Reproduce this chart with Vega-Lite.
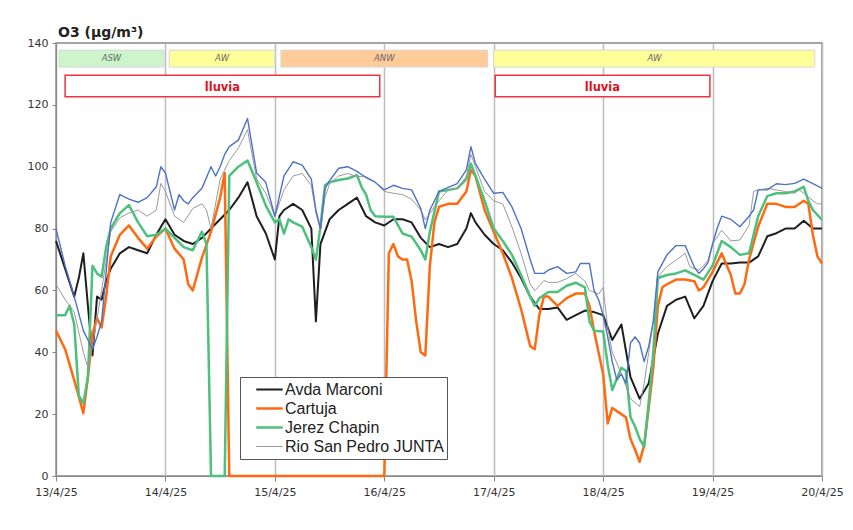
{
  "$schema": "https://vega.github.io/schema/vega-lite/v6.json",
  "width": 766,
  "height": 433,
  "autosize": "none",
  "padding": {"left": 56, "top": 43, "right": 31, "bottom": 54},
  "background": "white",
  "title": {"text": "O3 (µg/m³)", "anchor": "start", "frame": "group", "font": "DejaVu Sans", "fontSize": 14, "fontWeight": "bold", "color": "#222", "offset": 1, "dy": 4, "dx": 2},
  "config": {
    "font": "DejaVu Sans",
    "view": {"stroke": "#888", "strokeWidth": 1.5},
    "axis": {"labelFont": "DejaVu Sans", "labelFontSize": 11, "labelColor": "#333", "domainColor": "#888", "tickColor": "#888", "title": null}
  },
  "datasets": {
    "o3": [
      {"t": "2025-04-13T00:00", "M": 76, "C": 47, "J": 52, "R": 62, "B": 80},
      {"t": "2025-04-13T02:00", "M": 67, "C": 41, "J": 52, "R": 57, "B": 68},
      {"t": "2025-04-13T03:00", "J": 55},
      {"t": "2025-04-13T04:00", "M": 58, "C": 31, "J": 49, "R": 53, "B": 58},
      {"t": "2025-04-13T05:00", "M": 64, "J": 26},
      {"t": "2025-04-13T06:00", "M": 72, "C": 20.3, "J": 23.5, "R": 40, "B": 47},
      {"t": "2025-04-13T07:00", "M": 55, "C": 32, "J": 32, "R": 35},
      {"t": "2025-04-13T08:00", "M": 39, "C": 46, "J": 68, "R": 42, "B": 41},
      {"t": "2025-04-13T09:00", "M": 58, "C": 51, "J": 65.5, "B": 45},
      {"t": "2025-04-13T10:00", "M": 57, "C": 48, "J": 64.4, "R": 60, "B": 50},
      {"t": "2025-04-13T11:00", "M": 63, "C": 58, "J": 74},
      {"t": "2025-04-13T12:00", "M": 67, "C": 71, "J": 80, "R": 79, "B": 82},
      {"t": "2025-04-13T14:00", "M": 72, "C": 78, "J": 85, "R": 83.5, "B": 91},
      {"t": "2025-04-13T16:00", "M": 74, "C": 81, "J": 87.6, "R": 85, "B": 89.5},
      {"t": "2025-04-13T18:00", "M": 73, "C": 77, "J": 82, "R": 86, "B": 88.5},
      {"t": "2025-04-13T20:00", "M": 72, "C": 73.5, "J": 77.5, "R": 84, "B": 90},
      {"t": "2025-04-13T22:00", "M": 78, "C": 77.4, "J": 78, "R": 86, "B": 93.5},
      {"t": "2025-04-13T23:00", "R": 94.6, "B": 100},
      {"t": "2025-04-14T00:00", "M": 83, "C": 80, "J": 80, "R": 92, "B": 98},
      {"t": "2025-04-14T02:00", "M": 78, "C": 73.5, "J": 77, "R": 84, "B": 86},
      {"t": "2025-04-14T03:00", "B": 91},
      {"t": "2025-04-14T04:00", "M": 76, "C": 70, "J": 74, "R": 82, "B": 89},
      {"t": "2025-04-14T05:00", "C": 62, "B": 88},
      {"t": "2025-04-14T06:00", "M": 75, "C": 60, "J": 73, "R": 86.5, "B": 90},
      {"t": "2025-04-14T08:00", "M": 77, "C": 70.5, "J": 79, "R": 88, "B": 93},
      {"t": "2025-04-14T09:00", "J": 75, "R": 86},
      {"t": "2025-04-14T10:00", "M": 80, "C": 79, "J": 0, "R": 80, "B": 100},
      {"t": "2025-04-14T11:00", "B": 97},
      {"t": "2025-04-14T12:00", "M": 83, "C": 90, "J": 0, "R": 96, "B": 100},
      {"t": "2025-04-14T13:00", "C": 98, "J": 0, "B": 104},
      {"t": "2025-04-14T14:00", "M": 86, "C": 0, "J": 97, "R": 102, "B": 106.5},
      {"t": "2025-04-14T16:00", "M": 90, "C": 0, "J": 100, "R": 106, "B": 108.6},
      {"t": "2025-04-14T18:00", "M": 95, "C": 0, "J": 102, "R": 112, "B": 115.6},
      {"t": "2025-04-14T20:00", "M": 84, "C": 0, "J": 95, "R": 96, "B": 98},
      {"t": "2025-04-14T22:00", "M": 78.5, "C": 0, "J": 87.5, "R": 91.5, "B": 95},
      {"t": "2025-04-15T00:00", "M": 70, "C": 0, "J": 82, "R": 84, "B": 84},
      {"t": "2025-04-15T01:00", "M": 84, "J": 83},
      {"t": "2025-04-15T02:00", "M": 86, "C": 0, "J": 78.4, "R": 92.5, "B": 97},
      {"t": "2025-04-15T03:00", "J": 83},
      {"t": "2025-04-15T04:00", "M": 88, "C": 0, "J": 82, "R": 97, "B": 101.6},
      {"t": "2025-04-15T06:00", "M": 86, "C": 0, "J": 80.6, "R": 97.8, "B": 100.5},
      {"t": "2025-04-15T08:00", "M": 80, "C": 0, "J": 74, "R": 94, "B": 96},
      {"t": "2025-04-15T09:00", "M": 50, "J": 70, "R": 85, "B": 86},
      {"t": "2025-04-15T10:00", "M": 75, "C": 0, "J": 80.6, "R": 79.5, "B": 80},
      {"t": "2025-04-15T11:00", "J": 94, "R": 90, "B": 93},
      {"t": "2025-04-15T12:00", "M": 83, "C": 0, "J": 95, "R": 94.5, "B": 95.5},
      {"t": "2025-04-15T14:00", "M": 86, "C": 0, "J": 95.7, "R": 97, "B": 99.5},
      {"t": "2025-04-15T16:00", "M": 88, "C": 0, "J": 96.2, "R": 97.8, "B": 100},
      {"t": "2025-04-15T18:00", "M": 90, "C": 0, "J": 97.3, "R": 96.8, "B": 98.5},
      {"t": "2025-04-15T19:00", "J": 93.5},
      {"t": "2025-04-15T20:00", "M": 84, "C": 0, "J": 91, "R": 96.8, "B": 96.5},
      {"t": "2025-04-15T21:00", "J": 86},
      {"t": "2025-04-15T22:00", "M": 82, "C": 0, "J": 84, "R": 95, "B": 95},
      {"t": "2025-04-16T00:00", "M": 81, "C": 0, "J": 83.8, "R": 92, "B": 92.5},
      {"t": "2025-04-16T01:00", "C": 72},
      {"t": "2025-04-16T02:00", "M": 83, "C": 75, "J": 83.8, "R": 91.4, "B": 94},
      {"t": "2025-04-16T03:00", "C": 71},
      {"t": "2025-04-16T04:00", "M": 83, "C": 70, "J": 78.4, "R": 91, "B": 93},
      {"t": "2025-04-16T05:00", "C": 70},
      {"t": "2025-04-16T06:00", "M": 82, "C": 63, "J": 77.4, "R": 89.5, "B": 92.5},
      {"t": "2025-04-16T07:00", "C": 50},
      {"t": "2025-04-16T08:00", "M": 77, "C": 40, "J": 73, "R": 86, "B": 86.5},
      {"t": "2025-04-16T09:00", "C": 39, "J": 70, "R": 82.8, "B": 80},
      {"t": "2025-04-16T10:00", "M": 74, "C": 68, "J": 79, "R": 85, "B": 86},
      {"t": "2025-04-16T11:00", "C": 82},
      {"t": "2025-04-16T12:00", "M": 75, "C": 87, "J": 92, "R": 89, "B": 92},
      {"t": "2025-04-16T14:00", "M": 74, "C": 88, "J": 92.5, "R": 92.5, "B": 93.3},
      {"t": "2025-04-16T16:00", "M": 75, "C": 88, "J": 93, "R": 93, "B": 94.5},
      {"t": "2025-04-16T18:00", "M": 80, "C": 92, "J": 96, "R": 96.8, "B": 99},
      {"t": "2025-04-16T19:00", "M": 85, "C": 99, "J": 101, "R": 104, "B": 106.5},
      {"t": "2025-04-16T20:00", "M": 82, "C": 97, "J": 97, "R": 100, "B": 101},
      {"t": "2025-04-16T22:00", "M": 78, "C": 86, "J": 89, "R": 92, "B": 96},
      {"t": "2025-04-17T00:00", "M": 75, "C": 79, "J": 80, "R": 89, "B": 91.4},
      {"t": "2025-04-17T02:00", "M": 73, "C": 72, "J": 76, "R": 88, "B": 91.7},
      {"t": "2025-04-17T04:00", "M": 69, "C": 64, "J": 71.5, "R": 80.5, "B": 87},
      {"t": "2025-04-17T06:00", "M": 64, "C": 54, "J": 65, "R": 72, "B": 80},
      {"t": "2025-04-17T08:00", "M": 58, "C": 42, "J": 58, "R": 62, "B": 70},
      {"t": "2025-04-17T09:00", "C": 41, "J": 55, "R": 59.9, "B": 65.5},
      {"t": "2025-04-17T10:00", "M": 54, "C": 52, "J": 57.5, "R": 61.5, "B": 65.5},
      {"t": "2025-04-17T11:00", "C": 58, "R": 63.2, "B": 65.5},
      {"t": "2025-04-17T12:00", "M": 54, "C": 58, "J": 59.5, "R": 62.6, "B": 66.6},
      {"t": "2025-04-17T14:00", "M": 54.5, "C": 55, "J": 59.5, "R": 62.6, "B": 67.7},
      {"t": "2025-04-17T16:00", "M": 50.5, "C": 57.5, "J": 61.5, "R": 63.8, "B": 65.5},
      {"t": "2025-04-17T18:00", "M": 52, "C": 59, "J": 62.5, "R": 65.5, "B": 66},
      {"t": "2025-04-17T19:00", "B": 68.7},
      {"t": "2025-04-17T20:00", "M": 53.5, "C": 59, "J": 61, "R": 63, "B": 68.7},
      {"t": "2025-04-17T21:00", "C": 55, "J": 50, "R": 60, "B": 68.7},
      {"t": "2025-04-17T22:00", "M": 53, "C": 47, "J": 47, "R": 59.4, "B": 60},
      {"t": "2025-04-17T23:00", "R": 58.8, "B": 57},
      {"t": "2025-04-18T00:00", "M": 52, "C": 33, "J": 46.7, "R": 61, "B": 52},
      {"t": "2025-04-18T01:00", "C": 17, "J": 36, "R": 48, "B": 45},
      {"t": "2025-04-18T02:00", "M": 44, "C": 22, "J": 27.8, "R": 40, "B": 37},
      {"t": "2025-04-18T03:00", "B": 31},
      {"t": "2025-04-18T04:00", "M": 49, "C": 20, "J": 35, "R": 33, "B": 33},
      {"t": "2025-04-18T05:00", "C": 19, "J": 34, "B": 30},
      {"t": "2025-04-18T06:00", "M": 32, "C": 12, "J": 19, "R": 25, "B": 43},
      {"t": "2025-04-18T07:00", "C": 8.5, "J": 16, "B": 45},
      {"t": "2025-04-18T08:00", "M": 25, "C": 4.6, "J": 12, "R": 22.4, "B": 43},
      {"t": "2025-04-18T09:00", "C": 10, "J": 9.5, "R": 30, "B": 37},
      {"t": "2025-04-18T10:00", "M": 30, "C": 22, "J": 24, "R": 40, "B": 42},
      {"t": "2025-04-18T11:00", "C": 35, "J": 40, "R": 50, "B": 50},
      {"t": "2025-04-18T12:00", "M": 46, "C": 55, "J": 64, "R": 64.4, "B": 66},
      {"t": "2025-04-18T13:00", "C": 61},
      {"t": "2025-04-18T14:00", "M": 55, "C": 62, "J": 65, "R": 67.7, "B": 71.5},
      {"t": "2025-04-18T16:00", "M": 57, "C": 63.5, "J": 65.5, "R": 69.8, "B": 74.5},
      {"t": "2025-04-18T18:00", "M": 58, "C": 63.5, "J": 66.5, "R": 72, "B": 74.5},
      {"t": "2025-04-18T19:00", "R": 67.7},
      {"t": "2025-04-18T20:00", "M": 51, "C": 63, "J": 65, "R": 67, "B": 67.5},
      {"t": "2025-04-18T21:00", "C": 60, "R": 66.6, "B": 65.5},
      {"t": "2025-04-18T22:00", "M": 55, "C": 61, "J": 63.5, "R": 68, "B": 67},
      {"t": "2025-04-18T23:00", "R": 69.8, "B": 69},
      {"t": "2025-04-19T00:00", "M": 63, "C": 66, "J": 68, "R": 75, "B": 75},
      {"t": "2025-04-19T01:00", "B": 80},
      {"t": "2025-04-19T02:00", "M": 68.7, "C": 72, "J": 76, "R": 79.5, "B": 84},
      {"t": "2025-04-19T04:00", "M": 68.7, "C": 65, "J": 74, "R": 76, "B": 83},
      {"t": "2025-04-19T05:00", "C": 59},
      {"t": "2025-04-19T06:00", "M": 69, "C": 59, "J": 71.5, "R": 76.3, "B": 80.6},
      {"t": "2025-04-19T07:00", "C": 62},
      {"t": "2025-04-19T08:00", "M": 69, "C": 70, "J": 72, "R": 81, "B": 84},
      {"t": "2025-04-19T09:00", "J": 78, "R": 92, "B": 86},
      {"t": "2025-04-19T10:00", "M": 71, "C": 80.6, "J": 84, "R": 92.5, "B": 92.5},
      {"t": "2025-04-19T12:00", "M": 77.5, "C": 88, "J": 90.5, "R": 93, "B": 92.5},
      {"t": "2025-04-19T14:00", "M": 78.5, "C": 88, "J": 91.4, "R": 92.5, "B": 94.5},
      {"t": "2025-04-19T16:00", "M": 80, "C": 87, "J": 91.4, "R": 92, "B": 94.2},
      {"t": "2025-04-19T18:00", "M": 80, "C": 87, "J": 92, "R": 91.4, "B": 94.6},
      {"t": "2025-04-19T19:00", "R": 92.5},
      {"t": "2025-04-19T20:00", "M": 82.5, "C": 89, "J": 93.5, "R": 91.4, "B": 96},
      {"t": "2025-04-19T21:00", "C": 88, "J": 89, "R": 90.3},
      {"t": "2025-04-19T22:00", "M": 80, "C": 78, "J": 86, "R": 89, "B": 94.5},
      {"t": "2025-04-19T23:00", "C": 71, "R": 88},
      {"t": "2025-04-20T00:00", "M": 80, "C": 68.7, "J": 82.8, "R": 88, "B": 93}
    ],
    "names": [
      {"k": "M", "name": "Avda Marconi"},
      {"k": "C", "name": "Cartuja"},
      {"k": "J", "name": "Jerez Chapin"},
      {"k": "R", "name": "Rio San Pedro JUNTA"}
    ],
    "bands": [
      {"start": "2025-04-13T00:40", "end": "2025-04-13T23:40", "mid": "2025-04-13T12:10", "label": "ASW", "kind": "ASW"},
      {"start": "2025-04-14T00:50", "end": "2025-04-15T00:00", "mid": "2025-04-14T12:25", "label": "AW", "kind": "AW"},
      {"start": "2025-04-15T01:20", "end": "2025-04-16T22:40", "mid": "2025-04-16T00:00", "label": "ANW", "kind": "ANW"},
      {"start": "2025-04-17T00:00", "end": "2025-04-19T22:25", "mid": "2025-04-18T11:15", "label": "AW", "kind": "AW"}
    ],
    "rain": [
      {"start": "2025-04-13T02:00", "end": "2025-04-15T23:00", "mid": "2025-04-14T12:30", "label": "lluvia"},
      {"start": "2025-04-17T00:20", "end": "2025-04-18T23:25", "mid": "2025-04-17T23:50", "label": "lluvia"}
    ]
  },
  "layer": [
    {
      "data": {"name": "bands"},
      "mark": {"type": "rect", "stroke": "#d8d8d8", "strokeWidth": 1},
      "encoding": {
        "x": {"field": "start", "type": "temporal"},
        "x2": {"field": "end"},
        "y": {"datum": 137.7},
        "y2": {"datum": 132.2},
        "fill": {"field": "kind", "type": "nominal", "scale": {"domain": ["ASW", "AW", "ANW"], "range": ["#ccf5cc", "#ffff99", "#ffcc99"]}, "legend": null}
      }
    },
    {
      "data": {"name": "bands"},
      "mark": {"type": "text", "fontSize": 8.5, "fontStyle": "italic", "color": "#666"},
      "encoding": {
        "x": {"field": "mid", "type": "temporal"},
        "y": {"datum": 135},
        "text": {"field": "label"}
      }
    },
    {
      "data": {"name": "rain"},
      "mark": {"type": "rect", "fill": "white", "stroke": "#ee3340", "strokeWidth": 1.5},
      "encoding": {
        "x": {"field": "start", "type": "temporal"},
        "x2": {"field": "end"},
        "y": {"datum": 129.6},
        "y2": {"datum": 122.6}
      }
    },
    {
      "data": {"name": "rain"},
      "mark": {"type": "text", "fontSize": 11.5, "fontWeight": "bold", "color": "#e0101c"},
      "encoding": {
        "x": {"field": "mid", "type": "temporal"},
        "y": {"datum": 125.6},
        "text": {"field": "label"}
      }
    },
    {
      "mark": {"type": "rule", "color": "#ff1a1a", "strokeWidth": 3},
      "encoding": {"y": {"datum": 120}}
    },
    {
      "data": {"name": "o3"},
      "transform": [
        {"fold": ["M", "C", "J", "R"], "as": ["k", "v"]},
        {"filter": "isValid(datum.v)"},
        {"lookup": "k", "from": {"data": {"name": "names"}, "key": "k", "fields": ["name"]}}
      ],
      "mark": {"type": "line", "strokeJoin": "round"},
      "encoding": {
        "x": {
          "field": "t", "type": "temporal",
          "scale": {"domain": [{"year": 2025, "month": 4, "date": 13}, {"year": 2025, "month": 4, "date": 20}]},
          "axis": {"format": "%-d/%-m/%y", "tickCount": {"interval": "day", "step": 1}, "grid": true, "gridColor": "#bdbdbd", "gridWidth": 1.5, "tickSize": 5, "labelPadding": 5, "labelFlush": false, "labelOverlap": false}
        },
        "y": {
          "field": "v", "type": "quantitative",
          "scale": {"domain": [0, 140], "nice": false},
          "axis": {"values": [0, 20, 40, 60, 80, 100, 120, 140], "grid": false, "tickSize": 4, "labelPadding": 4}
        },
        "stroke": {
          "field": "name", "type": "nominal",
          "scale": {"domain": ["Avda Marconi", "Cartuja", "Jerez Chapin", "Rio San Pedro JUNTA"], "range": ["#1e1e1e", "#ff6a10", "#4cc07c", "#9a9a9a"]},
          "legend": {
            "title": null, "orient": "none", "legendX": 184, "legendY": 334,
            "fillColor": "white", "strokeColor": "#555", "padding": 3,
            "symbolType": "stroke", "symbolSize": 700, "symbolOffset": 12, "clipHeight": 19,
            "labelFont": "Liberation Sans", "labelFontSize": 16, "labelColor": "#222",
            "labelOffset": 1, "rowPadding": 0, "labelLimit": 300
          }
        },
        "strokeWidth": {
          "field": "name", "type": "nominal",
          "scale": {"type": "ordinal", "domain": ["Avda Marconi", "Cartuja", "Jerez Chapin", "Rio San Pedro JUNTA"], "range": [2, 2.5, 2.5, 1]},
          "legend": null
        }
      }
    },
    {
      "data": {"name": "o3"},
      "transform": [{"filter": "isValid(datum.B)"}],
      "mark": {"type": "line", "color": "#4d72c6", "strokeWidth": 1.4, "strokeJoin": "round"},
      "encoding": {
        "x": {"field": "t", "type": "temporal"},
        "y": {"field": "B", "type": "quantitative"}
      }
    }
  ]
}
